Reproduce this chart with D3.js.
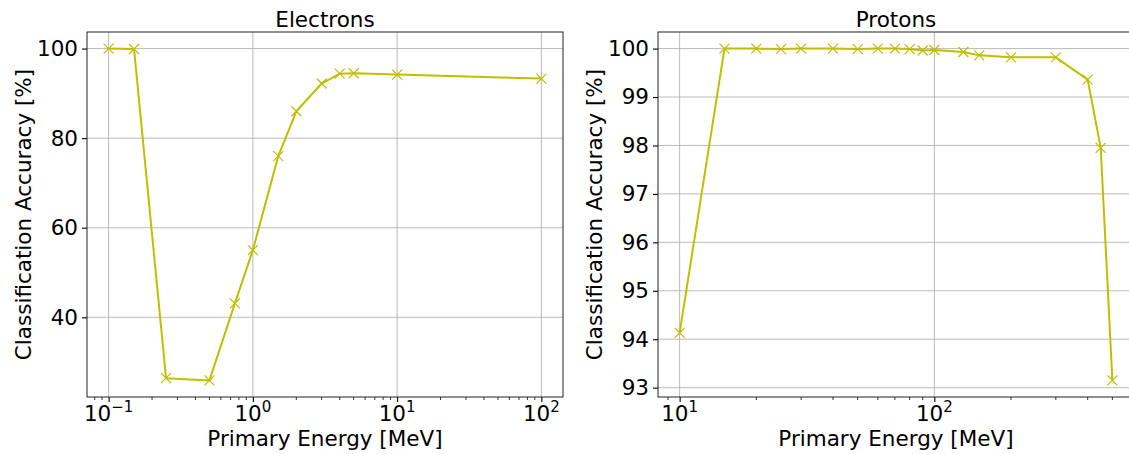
<!DOCTYPE html>
<html><head><meta charset="utf-8">
<script src="https://cdn.jsdelivr.net/npm/d3@7"></script>
<style>
body{margin:0;background:#fff}
svg{display:block}
text{font-family:"DejaVu Sans",sans-serif;fill:#000}
</style>
</head><body>
<svg id="chart" width="1129" height="454"></svg>
<script>
// Electron classification accuracy vs primary energy
const electronEnergy = [0.1, 0.15, 0.25, 0.5, 0.75, 1, 1.5, 2, 3, 4, 5, 10, 100];
const electronAccuracy = [100.0, 99.9, 26.4, 25.9, 43.1, 55.0, 76.0, 86.0, 92.2, 94.4, 94.5, 94.2, 93.3];
const electronYTicks = [40, 60, 80, 100];
const electronXTicks = [0.1, 1, 10, 100];

// Proton classification accuracy vs primary energy
const protonEnergy = [10, 15, 20, 25, 30, 40, 50, 60, 70, 80, 90, 100, 130, 150, 200, 300, 400, 450, 500];
const protonAccuracy = [94.13, 100.0, 100.0, 99.99, 100.0, 100.0, 99.99, 100.0, 100.0, 99.99, 99.96, 99.97, 99.93, 99.86, 99.82, 99.82, 99.36, 97.95, 93.15];
const protonYTicks = [93, 94, 95, 96, 97, 98, 99, 100];
const protonXTicks = [10, 100];

const lineColor = "#bfbf00";
const fontSize = "21.5px";
const svg = d3.select("#chart");

function padLog(vals) {
  const lo = Math.log10(d3.min(vals)), hi = Math.log10(d3.max(vals));
  const m = (hi - lo) * 0.05;
  return [Math.pow(10, lo - m), Math.pow(10, hi + m)];
}
function padLin(vals) {
  const lo = d3.min(vals), hi = d3.max(vals);
  const m = (hi - lo) * 0.05;
  return [lo - m, hi + m];
}

function panel(opts) {
  const {left, right, top, bottom, xs, ys, xTicks, yTicks, title, ylabelX} = opts;
  const x = d3.scaleLog().domain(padLog(xs)).range([left, right]);
  const y = d3.scaleLinear().domain(padLin(ys)).range([bottom, top]);
  const g = svg.append("g");

  // minor tick positions on the log axis
  const [d0, d1] = x.domain();
  const minor = [];
  for (let e = Math.floor(Math.log10(d0)); e <= Math.ceil(Math.log10(d1)); e++) {
    for (let k = 2; k <= 9; k++) {
      const v = k * Math.pow(10, e);
      if (v >= d0 && v <= d1) minor.push(v);
    }
  }

  // grid
  g.append("g").selectAll("line").data(xTicks).join("line")
    .attr("x1", d => x(d)).attr("x2", d => x(d))
    .attr("y1", top).attr("y2", bottom)
    .attr("stroke", "#b0b0b0").attr("stroke-width", 1).attr("opacity", 0.85);
  g.append("g").selectAll("line").data(yTicks).join("line")
    .attr("x1", left).attr("x2", right)
    .attr("y1", d => y(d)).attr("y2", d => y(d))
    .attr("stroke", "#b0b0b0").attr("stroke-width", 1).attr("opacity", 0.85);

  // x axis ticks
  const xa = g.append("g").attr("transform", `translate(0,${bottom})`)
    .call(d3.axisBottom(x).tickValues(xTicks).tickFormat("").tickSizeInner(5).tickSizeOuter(0));
  xa.select(".domain").remove();
  xa.selectAll("line").attr("stroke", "#000").attr("stroke-width", 1.1);
  g.append("g").selectAll("line").data(minor).join("line")
    .attr("x1", d => x(d)).attr("x2", d => x(d))
    .attr("y1", bottom).attr("y2", bottom + 3)
    .attr("stroke", "#000").attr("stroke-width", 0.8);

  // x tick labels as 10^n
  xTicks.forEach(v => {
    const ex = Math.round(Math.log10(v));
    const t = g.append("text").attr("x", x(v)).attr("y", 421)
      .attr("text-anchor", "middle").style("font-size", fontSize);
    t.append("tspan").text("10");
    t.append("tspan").attr("dy", -9.5).style("font-size", "15px")
      .text(ex < 0 ? "\u2212" + (-ex) : String(ex));
  });

  // y axis
  const ya = g.append("g").attr("transform", `translate(${left},0)`)
    .call(d3.axisLeft(y).tickValues(yTicks).tickFormat(d3.format("d")).tickSizeInner(5).tickSizeOuter(0).tickPadding(4));
  ya.select(".domain").remove();
  ya.selectAll("line").attr("stroke", "#000").attr("stroke-width", 1.1);
  ya.selectAll("text").style("font-size", fontSize).style("font-family", "DejaVu Sans").attr("fill", "#000");

  // spines
  g.append("rect").attr("x", left).attr("y", top)
    .attr("width", right - left).attr("height", bottom - top)
    .attr("fill", "none").attr("stroke", "#222").attr("stroke-width", 1);

  // series
  const pts = xs.map((v, i) => [v, ys[i]]);
  g.append("path").datum(pts)
    .attr("d", d3.line().x(d => x(d[0])).y(d => y(d[1])))
    .attr("fill", "none").attr("stroke", lineColor).attr("stroke-width", 2)
    .attr("stroke-linejoin", "round");
  const r = 5;
  g.append("g").selectAll("path").data(pts).join("path")
    .attr("d", d => {
      const cx = x(d[0]), cy = y(d[1]);
      return `M${cx - r},${cy - r}L${cx + r},${cy + r}M${cx - r},${cy + r}L${cx + r},${cy - r}`;
    })
    .attr("stroke", lineColor).attr("stroke-width", 1.2).attr("fill", "none");

  // titles and labels
  g.append("text").attr("x", (left + right) / 2).attr("y", 26.7)
    .attr("text-anchor", "middle").style("font-size", fontSize).text(title);
  g.append("text").attr("x", (left + right) / 2).attr("y", 446)
    .attr("text-anchor", "middle").style("font-size", fontSize).text("Primary Energy [MeV]");
  g.append("text").attr("transform", `translate(${ylabelX},${(top + bottom) / 2}) rotate(-90)`)
    .attr("text-anchor", "middle").style("font-size", fontSize).text("Classification Accuracy [%]");
}

panel({left: 87, right: 563, top: 32, bottom: 397,
  xs: electronEnergy, ys: electronAccuracy, xTicks: electronXTicks, yTicks: electronYTicks,
  title: "Electrons", ylabelX: 31});
panel({left: 658, right: 1134, top: 32, bottom: 397,
  xs: protonEnergy, ys: protonAccuracy, xTicks: protonXTicks, yTicks: protonYTicks,
  title: "Protons", ylabelX: 602});
</script>
</body></html>
